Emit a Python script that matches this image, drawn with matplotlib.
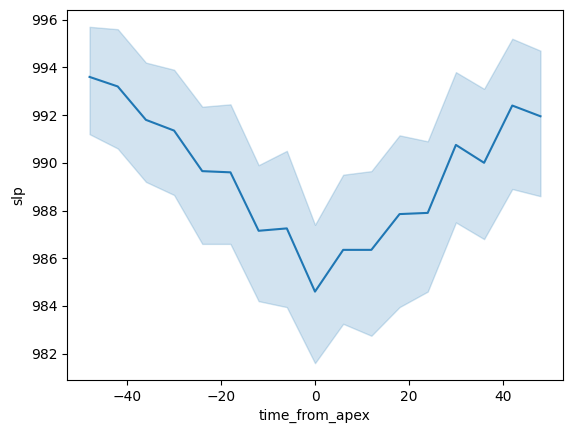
import numpy as np
import matplotlib
matplotlib.use("Agg")
import matplotlib.pyplot as plt

# 頂点からの時間（時間）
time_from_apex = [-48, -42, -36, -30, -24, -18, -12, -6, 0, 6, 12, 18, 24, 30, 36, 42, 48]

# 平均海面気圧
slp_mean = [993.6, 993.2, 991.8, 991.35, 989.65, 989.6, 987.15, 987.25, 984.6,
            986.35, 986.35, 987.85, 987.9, 990.75, 990.0, 992.4, 991.95]

# 信頼区間の上下
slp_upper = [995.7, 995.6, 994.2, 993.9, 992.35, 992.45, 989.9, 990.5, 987.4,
             989.5, 989.65, 991.15, 990.9, 993.8, 993.1, 995.2, 994.7]
slp_lower = [991.2, 990.6, 989.2, 988.65, 986.6, 986.6, 984.2, 983.95, 981.6,
             983.25, 982.75, 983.95, 984.6, 987.5, 986.8, 988.9, 988.6]

fig = plt.figure(figsize=(5.71, 4.33), dpi=100)
ax = fig.add_axes([67 / 571, 53 / 433, 496 / 571, 370 / 433])

ax.fill_between(time_from_apex, slp_lower, slp_upper, color="C0", alpha=0.2)
ax.plot(time_from_apex, slp_mean, color="C0", linewidth=1.5)

ax.set_xlabel("time_from_apex")
ax.set_ylabel("slp")

fig.savefig("out.png", dpi=100)
